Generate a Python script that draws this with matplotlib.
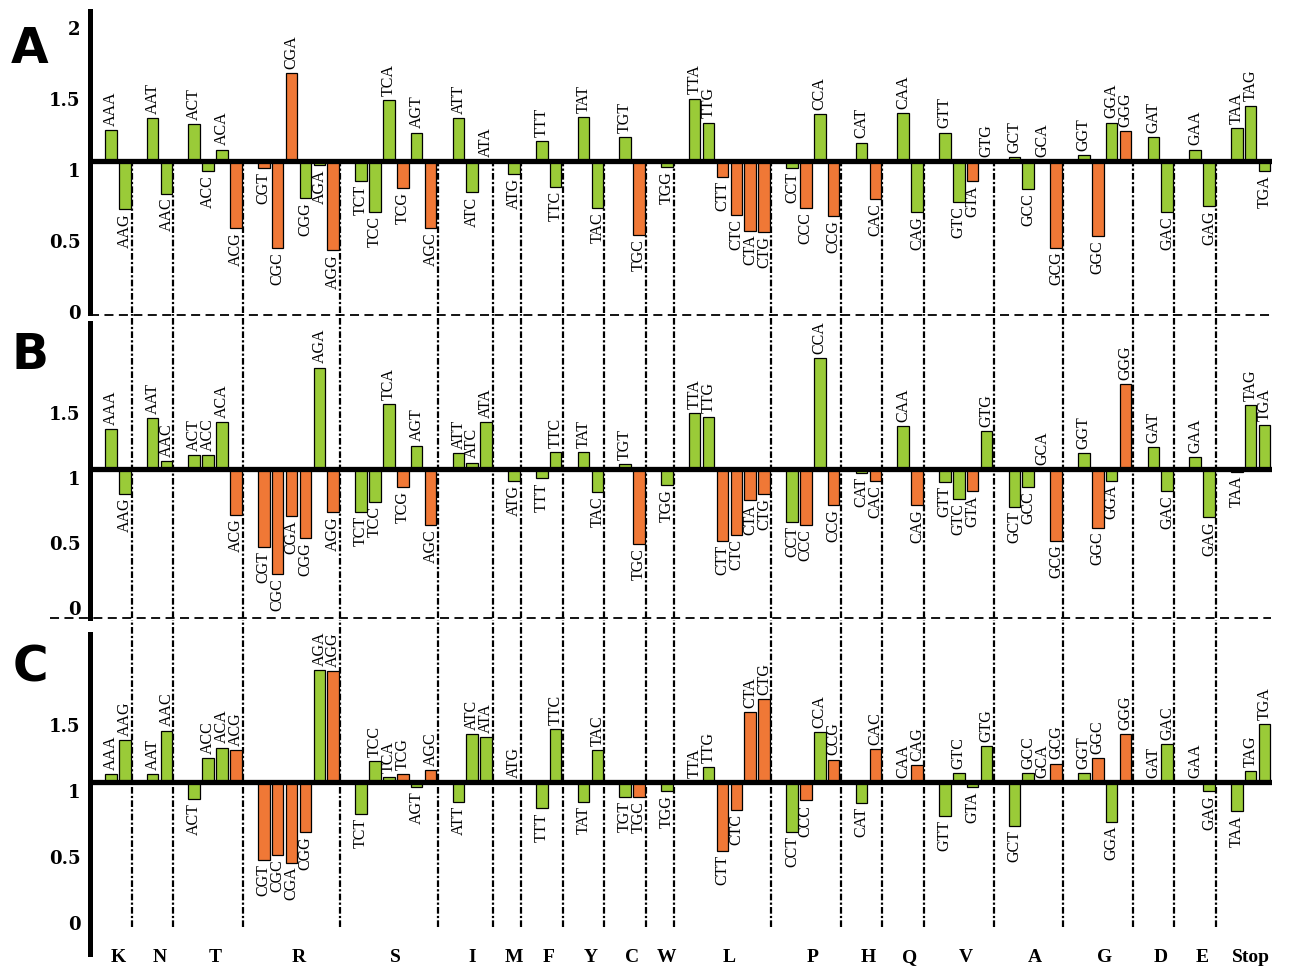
import numpy as np
import matplotlib
import matplotlib.pyplot as plt
import matplotlib.transforms as mtransforms
from matplotlib.lines import Line2D

matplotlib.use('Agg')

amino_acids = ['K', 'N', 'T', 'R', 'S', 'I', 'M', 'F', 'Y', 'C', 'W',
               'L', 'P', 'H', 'Q', 'V', 'A', 'G', 'D', 'E', 'Stop']
codons = [
    ['AAA', 'AAG'],
    ['AAT', 'AAC'],
    ['ACT', 'ACC', 'ACA', 'ACG'],
    ['CGT', 'CGC', 'CGA', 'CGG', 'AGA', 'AGG'],
    ['TCT', 'TCC', 'TCA', 'TCG', 'AGT', 'AGC'],
    ['ATT', 'ATC', 'ATA'],
    ['ATG'],
    ['TTT', 'TTC'],
    ['TAT', 'TAC'],
    ['TGT', 'TGC'],
    ['TGG'],
    ['TTA', 'TTG', 'CTT', 'CTC', 'CTA', 'CTG'],
    ['CCT', 'CCC', 'CCA', 'CCG'],
    ['CAT', 'CAC'],
    ['CAA', 'CAG'],
    ['GTT', 'GTC', 'GTA', 'GTG'],
    ['GCT', 'GCC', 'GCA', 'GCG'],
    ['GGT', 'GGC', 'GGA', 'GGG'],
    ['GAT', 'GAC'],
    ['GAA', 'GAG'],
    ['TAA', 'TAG', 'TGA'],
]

# relative usage values, codon order as above
values_a = [1.22, 0.66, 1.30, 0.77, 1.26, 0.93, 1.08, 0.53,
            0.95, 0.39, 1.62, 0.74, 0.97, 0.37,
            0.86, 0.64, 1.43, 0.81, 1.20, 0.53,
            1.30, 0.78, 1.00, 0.91, 1.14, 0.82, 1.31, 0.67, 1.17, 0.48, 0.96,
            1.44, 1.27, 0.89, 0.62, 0.51, 0.50,
            0.95, 0.67, 1.33, 0.61, 1.13, 0.73, 1.34, 0.64,
            1.20, 0.71, 0.86, 1.00, 1.03, 0.80, 1.00, 0.39,
            1.04, 0.47, 1.27, 1.21, 1.17, 0.64, 1.08, 0.68,
            1.23, 1.39, 0.93]
values_b = [1.31, 0.81, 1.39, 1.06, 1.11, 1.11, 1.36, 0.65,
            0.40, 0.19, 0.64, 0.47, 1.78, 0.67,
            0.67, 0.75, 1.50, 0.86, 1.18, 0.57,
            1.12, 1.05, 1.36, 0.91, 0.93, 1.13, 1.13, 0.82, 1.04, 0.42, 0.88,
            1.43, 1.40, 0.45, 0.49, 0.76, 0.81,
            0.59, 0.57, 1.85, 0.72, 0.97, 0.91, 1.33, 0.72,
            0.90, 0.77, 0.83, 1.29, 0.71, 0.86, 1.00, 0.45,
            1.12, 0.55, 0.91, 1.65, 1.17, 0.83, 1.09, 0.63,
            0.98, 1.49, 1.34]
values_c = [1.06, 1.32, 1.06, 1.39, 0.87, 1.18, 1.26, 1.24,
            0.41, 0.45, 0.39, 0.62, 1.85, 1.84,
            0.76, 1.16, 1.04, 1.06, 0.96, 1.09,
            0.85, 1.36, 1.34, 1.00, 0.80, 1.40, 0.85, 1.24, 0.89, 0.89, 0.93,
            1.00, 1.11, 0.48, 0.79, 1.53, 1.63,
            0.62, 0.86, 1.38, 1.17, 0.84, 1.25, 1.00, 1.13,
            0.74, 1.07, 0.96, 1.27, 0.67, 1.07, 1.00, 1.14,
            1.07, 1.18, 0.70, 1.36, 1.00, 1.29, 1.00, 0.93,
            0.78, 1.08, 1.44]

# g = green, o = orange (one block per amino acid)
colors_a = 'gg gg gggo oooggo gggogo ggg g gg gg go g ggoooo gogo go gg ggog gggo gogo gg gg ggg'
colors_b = 'gg gg gggo oooogo gggogo ggg g gg gg go g ggoooo gogo go go ggog gggo gogo gg gg ggg'
colors_c = 'gg gg gggo oooogo gggogo ggg g gg gg go g ggoooo gogo go go gggg gggo gogo gg gg ggg'

palette = {'g': '#9ACB38', 'o': '#F07836'}

W, H = 1293, 966
fig = plt.figure(figsize=(W / 100, H / 100), dpi=100)

# bar positions: every group gets one empty slot on its left
bar_x, sep_x, group_mid = [], [], []
o = 0
for cl in codons:
    xs = [o + k + 1.5 for k in range(len(cl))]
    bar_x += xs
    group_mid.append(np.mean(xs))
    o += len(cl) + 1
    sep_x.append(o)
sep_x = sep_x[:-1]
x_end = o

sep_style = (0, (3, 1, 1, 1))


def make_axes(top, bottom, ylim):
    ax = fig.add_axes([90 / W, 1 - bottom / H, (1271.5 - 90) / W, (bottom - top) / H])
    ax.set_xlim(0, x_end)
    ax.set_ylim(*ylim)
    for s in ['top', 'right', 'bottom']:
        ax.spines[s].set_visible(False)
    ax.spines['left'].set_linewidth(3.6)
    ax.set_xticks([])
    ax.tick_params(axis='y', length=0, pad=7)
    return ax


def draw_panel(ax, vals, cols, ticks, letter, letter_y):
    cols = cols.replace(' ', '')
    vals = np.array(vals)
    ax.bar(bar_x, vals - 1, bottom=1, width=0.83,
           color=[palette[c] for c in cols], edgecolor='black', linewidth=0.9, zorder=2)
    ax.plot([0, x_end], [1, 1], color='black', lw=3.8, solid_capstyle='butt', zorder=4)
    names = [c for cl in codons for c in cl]
    for x, v, name in zip(bar_x, vals, names):
        up = v >= 1
        ax.annotate(name, (x, v), xytext=(0, 3 if up else -3), textcoords='offset points',
                    rotation=90, ha='center', va='bottom' if up else 'top',
                    fontsize=11.5, family='Liberation Serif', zorder=5)
    ax.set_yticks(ticks)
    ax.set_yticklabels([('%g' % t) for t in ticks], fontsize=13, fontweight='bold',
                       family='DejaVu Serif')
    offset = mtransforms.ScaledTranslation(0, -9 / 100, fig.dpi_scale_trans)
    for lab in ax.get_yticklabels():
        lab.set_transform(lab.get_transform() + offset)
    fig.text(30 / W, 1 - letter_y / H, letter, fontsize=35, fontweight='bold',
             family='DejaVu Sans', ha='center', va='center')


ax_a = make_axes(11, 313, (-0.070, 2.056))
draw_panel(ax_a, values_a, colors_a, [0, 0.5, 1, 1.5, 2], 'A', 49)
ax_a.vlines(sep_x, -0.070, 1, colors='black', lw=1.6, linestyles=[sep_style], zorder=1)

ax_b = make_axes(323, 618, (-0.146, 2.123))
draw_panel(ax_b, values_b, colors_b, [0, 0.5, 1, 1.5], 'B', 355)
ax_b.vlines(sep_x, -0.146, 2.19, colors='black', lw=1.6, linestyles=[sep_style],
            zorder=1, clip_on=False)

ax_c = make_axes(634, 954, (-0.303, 2.121))
draw_panel(ax_c, values_c, colors_c, [0, 0.5, 1, 1.5], 'C', 667)
ax_c.vlines(sep_x, -0.098, 2.227, colors='black', lw=1.6, linestyles=[sep_style],
            zorder=1, clip_on=False)

# amino acid names under the bottom panel
for xm, aa in zip(group_mid, amino_acids):
    ax_c.text(xm, -0.333, aa, ha='center', va='center', fontsize=14, fontweight='bold',
              family='Liberation Serif', clip_on=False)

# dashed separators between panels
for y, x0 in [(315, 90), (618, 50)]:
    fig.add_artist(Line2D([x0 / W, 1271 / W], [1 - y / H, 1 - y / H], transform=fig.transFigure,
                          color='black', lw=1.3, linestyle=(0, (5, 3))))

fig.savefig('out.png', dpi=100)
